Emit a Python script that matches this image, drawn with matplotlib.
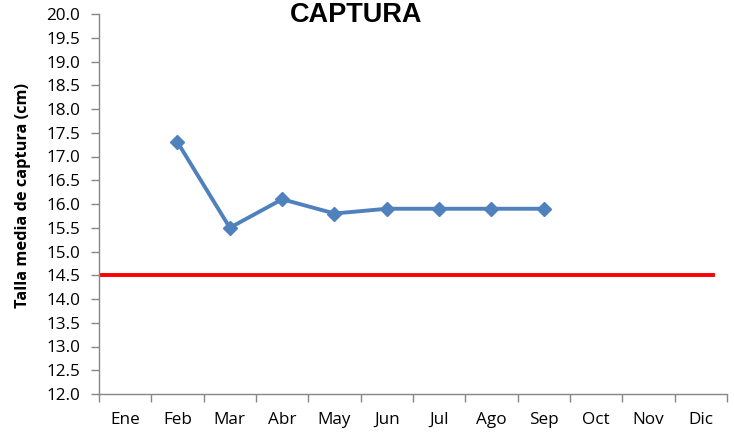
import matplotlib
matplotlib.use("Agg")
import matplotlib.pyplot as plt
import numpy as np

# data
months = ["Ene", "Feb", "Mar", "Abr", "May", "Jun", "Jul", "Ago", "Sep", "Oct", "Nov", "Dic"]
talla_months = ["Feb", "Mar", "Abr", "May", "Jun", "Jul", "Ago", "Sep"]
talla_media = [17.3, 15.5, 16.1, 15.8, 15.9, 15.9, 15.9, 15.9]
talla_minima = 14.5
y_ticks = np.arange(12.0, 20.01, 0.5)

W, H = 734, 434
fig = plt.figure(figsize=(W / 100, H / 100), dpi=100)
ax = fig.add_axes([99 / W, 1 - 394 / H, (727 - 99) / W, (394 - 14) / H])

x = np.array([months.index(m) for m in talla_months])
ax.plot(x, talla_media, color="#4F81BD", lw=2.8, marker="D", ms=7,
        markerfacecolor="#4F81BD", markeredgecolor="#4F81BD", zorder=3)

# reference line across the plot
ax.plot([-0.46, 11.24], [talla_minima, talla_minima], color="#FF0000", lw=2.8, zorder=2)

ax.set_xlim(-0.5, len(months) - 0.5)
ax.set_ylim(y_ticks[0], y_ticks[-1])
ax.set_yticks(y_ticks)
ax.set_yticklabels([f"{v:.1f}" for v in y_ticks], fontsize=12.3, family="Open Sans")

# category labels centred, tick marks on boundaries (Excel style)
ax.set_xticks(np.arange(len(months)))
ax.set_xticklabels(months, fontsize=12.3, family="Open Sans")
ax.tick_params(axis="x", length=0, pad=13)
ax.set_xticks(np.arange(-0.5, len(months)), minor=True)
ax.tick_params(axis="x", which="minor", length=5.5, color="#868686", width=1)
ax.tick_params(axis="y", length=5.5, color="#868686", width=1, pad=8)

for s in ["top", "right"]:
    ax.spines[s].set_visible(False)
for s in ["left", "bottom"]:
    ax.spines[s].set_color("#868686")
    ax.spines[s].set_linewidth(1)

fig.text(23 / W, 1 - 195 / H, "Talla media de captura (cm)", rotation=90,
         ha="center", va="center", fontsize=11.8, fontweight="bold", family="Open Sans")

fig.text(356 / W, 1 - 22 / H, "CAPTURA", ha="center", va="baseline", fontsize=19.5,
         fontweight="bold", family="Liberation Sans")

fig.savefig("out.png", dpi=100)
